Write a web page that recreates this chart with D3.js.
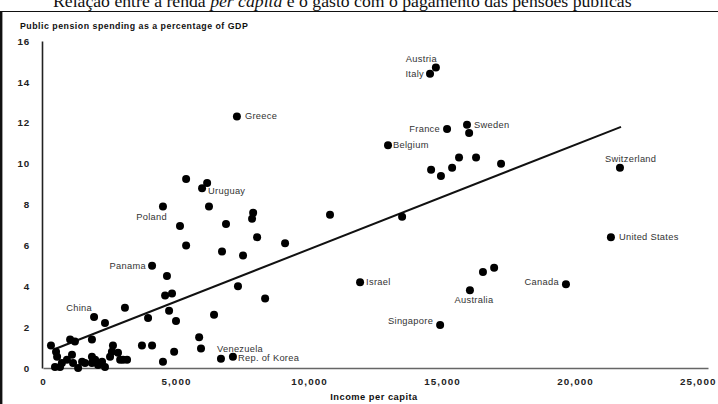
<!DOCTYPE html>
<html>
<head>
<meta charset="utf-8">
<script src="https://cdn.jsdelivr.net/npm/d3@7"></script>
<style>
  html, body { margin: 0; padding: 0; background: #fff; }
  svg { display: block; }
</style>
</head>
<body>
<svg id="chart" width="718" height="404"></svg>
<script>
// ---- Data ----
const chartTitle = "Relação entre a renda ";
const yAxisTitle = "Public pension spending as a percentage of GDP";
const xAxisTitle = "Income per capita";
const xTicks = [0, 5000, 10000, 15000, 20000, 25000];
const yTicks = [0, 2, 4, 6, 8, 10, 12, 14, 16];

const countries = [
  "Austria", "Italy", "France", "Sweden", "Belgium", "Switzerland", "United States",
  "Canada", "Australia", "Singapore", "Israel", "Greece", "Uruguay", "Poland",
  "Panama", "China", "Venezuela", "Rep. of Korea",
  "", "", "", "", "", "", "", "", "", "", "", "", "", "", "", "", "", "", "", "",
  "", "", "", "", "", "", "", "", "", "", "", "", "", "", "", "", "", "", "", "",
  "", "", "", "", "", "", "", "", "", "", "", "", "", "", "", "", "", "", "", "",
  "", "", "", "", "", "", "", "", "", "", "", "", "", "", "", ""
];
const income = [
  14770, 14550, 15190, 15940, 12970, 21690, 21350,
  19660, 16050, 14930, 11920, 7290, 5980, 4510,
  4100, 1920, 6690, 7140,
  16020, 15640, 16280, 15380, 14590, 14960, 17220, 16540, 16960, 8350,
  10790, 13500, 7900, 7860, 8050, 9100, 5380, 6170, 6240, 5150,
  6880, 5380, 6730, 7520, 4660, 7330, 4590, 4850, 3080, 3950,
  4740, 5000, 6430, 2330, 1840, 1020, 1200, 300, 490, 2630,
  3720, 4100, 5870, 5940, 4930, 4510,
  530, 710, 450, 640, 900, 1090, 1130, 1320, 1470, 1580,
  1840, 1840, 1960, 2070, 2220, 2330, 2520, 2590, 2820, 2900, 3010, 3160
];
const pension = [
  14.7, 14.4, 11.7, 11.9, 10.9, 9.8, 6.4,
  4.1, 3.8, 2.1, 4.2, 12.3, 8.8, 7.9,
  5.0, 2.5, 0.45, 0.55,
  11.5, 10.3, 10.3, 9.8, 9.7, 9.4, 10.0, 4.7, 4.9, 3.4,
  7.5, 7.4, 7.6, 7.3, 6.4, 6.1, 9.25, 9.05, 7.9, 6.95,
  7.05, 6.0, 5.7, 5.5, 4.5, 4.0, 3.55, 3.65, 2.95, 2.45,
  2.8, 2.3, 2.6, 2.2, 1.4, 1.4, 1.3, 1.1, 0.8, 1.1,
  1.1, 1.1, 1.5, 0.95, 0.8, 0.3,
  0.55, 0.25, 0.05, 0.05, 0.4, 0.65, 0.25, 0.0, 0.3, 0.25,
  0.55, 0.25, 0.4, 0.15, 0.3, 0.05, 0.55, 0.8, 0.75, 0.4, 0.4, 0.4
];
// Trend line end points
const trendIncome = [450, 21730];
const trendPension = [0.93, 11.8];

// ---- Layout ----
const svg = d3.select("#chart");
const x = d3.scaleLinear().domain([0, 25000]).range([43, 708]);
const y = d3.scaleLinear().domain([0, 16]).range([368, 41]);
const sans = "'Liberation Sans', Arial, sans-serif";

// Frame
svg.append("line").attr("x1", 0).attr("x2", 718).attr("y1", 11.5).attr("y2", 11.5)
  .attr("stroke", "#111").attr("stroke-width", 1.2);
svg.append("line").attr("x1", 1.2).attr("x2", 1.2).attr("y1", 11).attr("y2", 404)
  .attr("stroke", "#111").attr("stroke-width", 2.4);

// Title (cut at top, as in the source image)
const t = svg.append("text").attr("x", 53).attr("y", 7)
  .attr("font-family", "'Liberation Serif', 'Times New Roman', serif")
  .attr("font-size", 17.7).attr("fill", "#111");
t.append("tspan").text(chartTitle);
t.append("tspan").attr("font-style", "italic").text("per capita");
t.append("tspan").text(" e o gasto com o pagamento das pensões públicas");

// Y axis title
svg.append("text").attr("x", 20).attr("y", 29)
  .attr("font-family", sans)
  .attr("font-size", 8.8).attr("letter-spacing", 0.5).attr("font-weight", "bold").attr("fill", "#111")
  .text(yAxisTitle);

// Axes
const yAxis = svg.append("g").attr("transform", "translate(42,0)")
  .call(d3.axisLeft(y).tickValues(yTicks).tickSize(0).tickSizeOuter(0).tickPadding(12));
yAxis.select(".domain").attr("stroke", "#222").attr("stroke-width", 1.6);
yAxis.selectAll("text")
  .attr("font-family", sans).attr("letter-spacing", 0.8)
  .attr("font-size", 9.8).attr("font-weight", "bold").attr("fill", "#222");

const xAxis = svg.append("g").attr("transform", "translate(0,368)")
  .call(d3.axisBottom(x).tickValues(xTicks).tickSize(0).tickSizeOuter(0).tickPadding(10)
    .tickFormat(d3.format(",")));
xAxis.select(".domain").attr("stroke", "#666").attr("stroke-width", 1.5);
xAxis.selectAll("text")
  .attr("font-family", sans).attr("letter-spacing", 1.1)
  .attr("font-size", 9.8).attr("font-weight", "bold").attr("fill", "#222");
xAxis.selectAll(".tick").filter(d => d === 25000).select("text")
  .attr("text-anchor", "end").attr("x", 8);

svg.append("text").attr("x", 374).attr("y", 400).attr("text-anchor", "middle")
  .attr("font-family", sans).attr("letter-spacing", 0.5)
  .attr("font-size", 9.3).attr("font-weight", "bold").attr("fill", "#111")
  .text(xAxisTitle);

// Trend line
const trend = trendIncome.map((v, i) => [v, trendPension[i]]);
svg.append("path").datum(trend)
  .attr("d", d3.line().x(d => x(d[0])).y(d => y(d[1])))
  .attr("stroke", "#111").attr("stroke-width", 2).attr("fill", "none");

// Points
const pts = income.map((v, i) => ({ name: countries[i], inc: v, pen: pension[i] }));
svg.append("g").selectAll("circle").data(pts).join("circle")
  .attr("cx", d => x(d.inc)).attr("cy", d => y(d.pen)).attr("r", 4)
  .attr("fill", "#000");

// Label placement (relative to the dot)
const place = {
  "Austria": [1, -9, "end"],
  "Italy": [-6, 0, "end"],
  "France": [-7, 0, "end"],
  "Sweden": [7, 0, "start"],
  "Belgium": [5, 0, "start"],
  "Switzerland": [-15, -9, "start"],
  "United States": [8, 0, "start"],
  "Canada": [-7, -2, "end"],
  "Australia": [4, 9, "middle"],
  "Singapore": [-7, -4, "end"],
  "Israel": [6, 0, "start"],
  "Greece": [8, -1, "start"],
  "Uruguay": [6, 3, "start"],
  "Poland": [4, 10, "end"],
  "Panama": [-6, 0, "end"],
  "China": [-2, -9, "end"],
  "Venezuela": [-4, -10, "start"],
  "Rep. of Korea": [5, 1, "start"]
};
svg.append("g").selectAll("text").data(pts.filter(d => d.name)).join("text")
  .attr("x", d => x(d.inc) + place[d.name][0])
  .attr("y", d => y(d.pen) + place[d.name][1])
  .attr("dy", "0.35em")
  .attr("text-anchor", d => place[d.name][2])
  .attr("font-family", sans)
  .attr("font-size", 9.3).attr("letter-spacing", 0.3).attr("fill", "#333")
  .text(d => d.name);
</script>
</body>
</html>
